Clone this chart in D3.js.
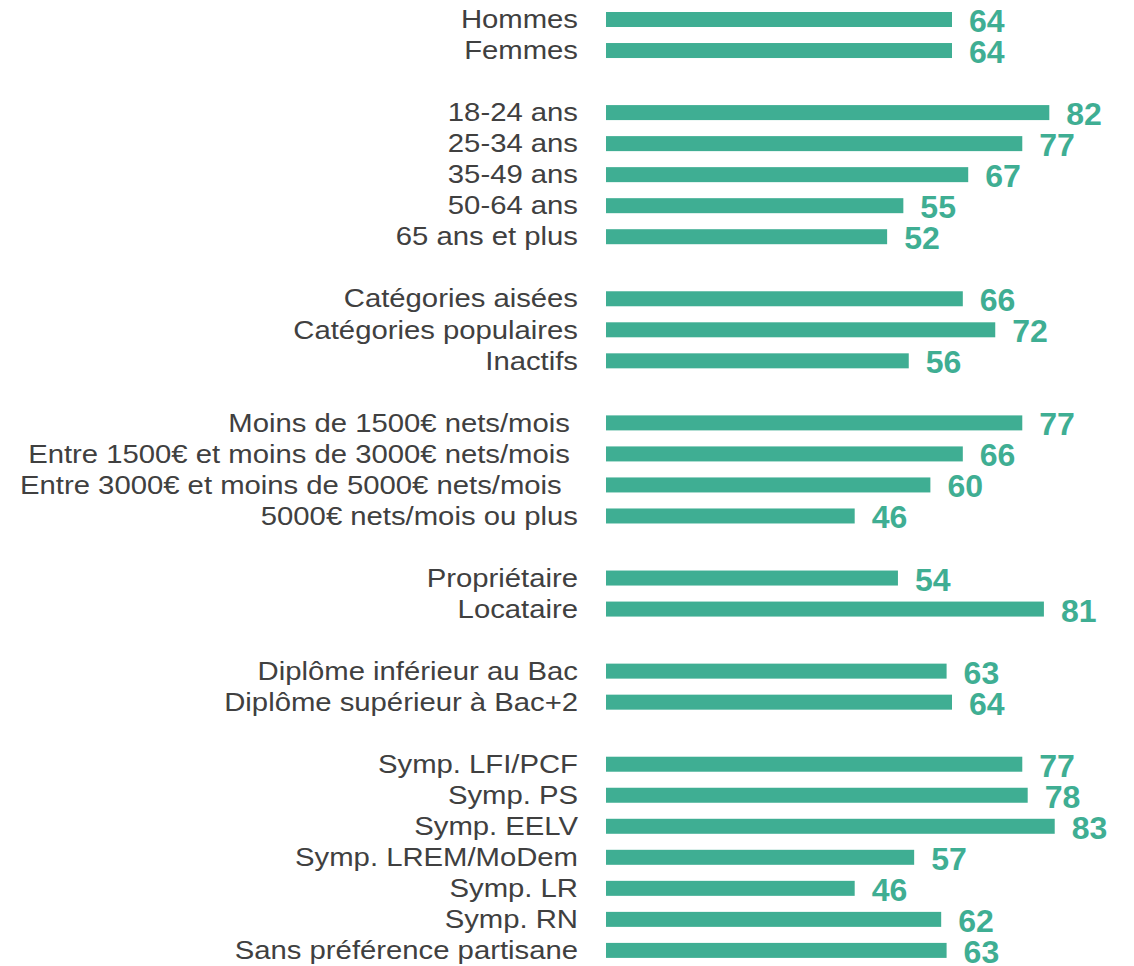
<!DOCTYPE html>
<html>
<head>
<meta charset="utf-8">
<script src="https://cdn.jsdelivr.net/npm/d3@7"></script>
<style>
  html, body { margin: 0; padding: 0; background: #fff; }
  svg { display: block; }
  text { white-space: pre; }
</style>
</head>
<body>
<svg id="chart" width="1134" height="966"></svg>
<script>
// Categories in display order; "" marks an empty spacer row between groups
const categories = [
  "Hommes", "Femmes", "",
  "18-24 ans", "25-34 ans", "35-49 ans", "50-64 ans", "65 ans et plus", "",
  "Catégories aisées", "Catégories populaires", "Inactifs", "",
  "Moins de 1500€ nets/mois ", "Entre 1500€ et moins de 3000€ nets/mois ", "Entre 3000€ et moins de 5000€ nets/mois  ", "5000€ nets/mois ou plus", "",
  "Propriétaire", "Locataire", "",
  "Diplôme inférieur au Bac", "Diplôme supérieur à Bac+2", "",
  "Symp. LFI/PCF", "Symp. PS", "Symp. EELV", "Symp. LREM/MoDem", "Symp. LR", "Symp. RN", "Sans préférence partisane"
];
const values = [
  64, 64, null,
  82, 77, 67, 55, 52, null,
  66, 72, 56, null,
  77, 66, 60, 46, null,
  54, 81, null,
  63, 64, null,
  77, 78, 83, 57, 46, 62, 63
];

const rows = categories.map((c, i) => ({ key: "r" + i, label: c, value: values[i] }));
const data = rows.filter(d => d.value !== null);

const svg = d3.select("#chart");
const green = "#3fae93";
const textGrey = "#404040";
const font = "'Liberation Sans', Arial, sans-serif";

const step = 31.03;
const y = d3.scaleBand()
  .domain(rows.map(d => d.key))
  .range([19.5 - step / 2, 19.5 - step / 2 + rows.length * step])
  .padding(0);
const yc = d => y(d.key) + y.bandwidth() / 2;

const x = d3.scaleLinear().domain([0, 64]).range([606, 952]);
const barH = 15;

const g = svg.append("g");

g.selectAll("rect.bar")
  .data(data)
  .enter().append("rect")
  .attr("class", "bar")
  .attr("x", x(0))
  .attr("y", d => yc(d) - barH / 2)
  .attr("width", d => x(d.value) - x(0))
  .attr("height", barH)
  .attr("fill", green);

g.selectAll("g.label")
  .data(data)
  .enter().append("g")
  .attr("class", "label")
  .attr("transform", d => `translate(578,${yc(d)}) scale(1.105,1)`)
  .append("text")
  .attr("x", 0)
  .attr("y", 8.7)
  .attr("text-anchor", "end")
  .attr("font-family", font)
  .attr("font-size", 26.5)
  .attr("fill", textGrey)
  .text(d => d.label);

g.selectAll("g.value")
  .data(data)
  .enter().append("g")
  .attr("class", "value")
  .attr("transform", d => `translate(${x(d.value) + 17},${yc(d)}) scale(1.05,1)`)
  .append("text")
  .attr("x", 0)
  .attr("y", 12.5)
  .attr("font-family", font)
  .attr("font-weight", "bold")
  .attr("font-size", 30.5)
  .attr("fill", green)
  .text(d => d.value);
</script>
</body>
</html>
